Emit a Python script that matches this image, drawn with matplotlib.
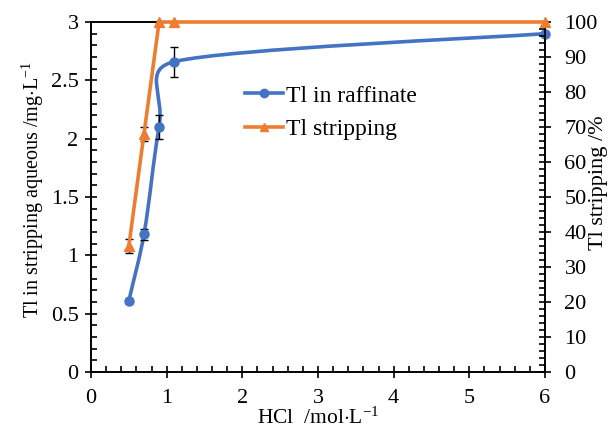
import numpy as np
import matplotlib
matplotlib.use("Agg")
import matplotlib.pyplot as plt
from matplotlib.path import Path
from matplotlib.patches import PathPatch
from matplotlib.lines import Line2D
from matplotlib.ticker import MultipleLocator, FuncFormatter

plt.rcParams['font.family'] = ['Liberation Serif', 'DejaVu Serif']
plt.rcParams['mathtext.fontset'] = 'custom'
plt.rcParams['mathtext.rm'] = 'Liberation Serif'
plt.rcParams['mathtext.it'] = 'Liberation Serif:italic'

# data
hcl = [0.5, 0.7, 0.9, 1.1, 6.0]
tl_raff = [0.61, 1.18, 2.10, 2.66, 2.90]
tl_raff_err = [0.02, 0.05, 0.10, 0.13, 0.0]
tl_strip = [36, 68, 100, 100, 100]
tl_strip_err = [2, 2, 0, 0, 0]

blue = '#4472C4'
orange = '#ED7D31'

fig = plt.figure(figsize=(6.1, 4.3), dpi=100)
ax = fig.add_axes([91/610, 58/430, 454/610, 350/430])
ax2 = ax.twinx()

ax.set_xlim(0, 6)
ax.set_ylim(0, 3)
ax2.set_ylim(0, 100)

# smoothed line like excel, control points worked out in pixel space
sx = 454/6.0
sy = 350/3.0
P = np.column_stack([np.array(hcl)*sx, np.array(tl_raff)*sy])
n = len(P)
tang = []
for i in range(n):
    if i == 0:
        d = P[1]-P[0]
    elif i == n-1:
        d = P[-1]-P[-2]
    else:
        d = P[i+1]-P[i-1]
    tang.append(d/np.linalg.norm(d))
kseg = [0.35, 0.35, 0.5, 0.15]   # tension per segment
verts = [tuple(P[0])]
codes = [Path.MOVETO]
for i in range(n-1):
    L = np.linalg.norm(P[i+1]-P[i])
    c1 = P[i] + tang[i]*L*kseg[i]
    c2 = P[i+1] - tang[i+1]*L*kseg[i]
    verts += [tuple(c1), tuple(c2), tuple(P[i+1])]
    codes += [Path.CURVE4]*3
verts = [(vx/sx, vy/sy) for vx, vy in verts]
curve = PathPatch(Path(verts, codes), facecolor='none', edgecolor=blue,
                  lw=2.6, transform=ax.transData, zorder=2)
ax.add_patch(curve)
ax.errorbar(hcl, tl_raff, yerr=tl_raff_err, fmt='none', ecolor='black',
            elinewidth=1, capsize=3, zorder=3)
ax.plot(hcl, tl_raff, 'o', color=blue, ms=6.5, zorder=4, clip_on=False)

ax2.errorbar(hcl, tl_strip, yerr=tl_strip_err, fmt='none', ecolor='black',
             elinewidth=1, capsize=3, zorder=3)
ax2.plot(hcl, tl_strip, '-^', color=orange, lw=2.6, ms=6.5, zorder=4,
         clip_on=False)

fs = 16
ax.xaxis.set_major_locator(MultipleLocator(1))
ax.xaxis.set_minor_locator(MultipleLocator(0.2))
ax.yaxis.set_major_locator(MultipleLocator(0.5))
ax.yaxis.set_minor_locator(MultipleLocator(0.1))
ax2.yaxis.set_major_locator(MultipleLocator(10))
ax2.yaxis.set_minor_locator(MultipleLocator(2))
ax.yaxis.set_major_formatter(FuncFormatter(lambda v, p: '%g' % v))

ax.tick_params(axis='both', which='major', direction='inout', length=8,
               width=1.2, labelsize=fs)
ax.tick_params(axis='x', which='major', pad=8)
ax.tick_params(axis='y', which='major', pad=5)
ax.tick_params(axis='both', which='minor', direction='in', length=4, width=1.2)
ax2.tick_params(axis='y', which='major', direction='inout', length=8,
                width=1.2, labelsize=fs, pad=10)
ax2.tick_params(axis='y', which='minor', direction='in', length=4, width=1.2)

for a in (ax, ax2):
    for s in a.spines.values():
        s.set_linewidth(1.2)
        s.set_color('black')

ax.set_xlabel('HCl  /mol$\\cdot$L$^{-1}$', fontsize=15.5, va='center')
ax.xaxis.set_label_coords(0.5, -0.131)
ax.set_ylabel('Tl in stripping aqueous /mg$\\cdot$L$^{-1}$', fontsize=14.5, va='center')
ax.yaxis.set_label_coords(-0.128, 0.52)
ax2.set_ylabel('Tl stripping /%', fontsize=16, va='center')
ax2.yaxis.set_label_coords(1.117, 0.54)

handles = [Line2D([], [], color=blue, marker='o', lw=2.6, ms=6),
           Line2D([], [], color=orange, marker='^', lw=2.6, ms=6)]
ax.legend(handles, ['Tl in raffinate', 'Tl stripping'], loc='upper left',
          bbox_to_anchor=(0.339, 0.82), frameon=False, fontsize=17,
          handlelength=1.6, handletextpad=0.15, borderpad=0, borderaxespad=0,
          labelspacing=0.5)

fig.savefig('out.png', dpi=100)
